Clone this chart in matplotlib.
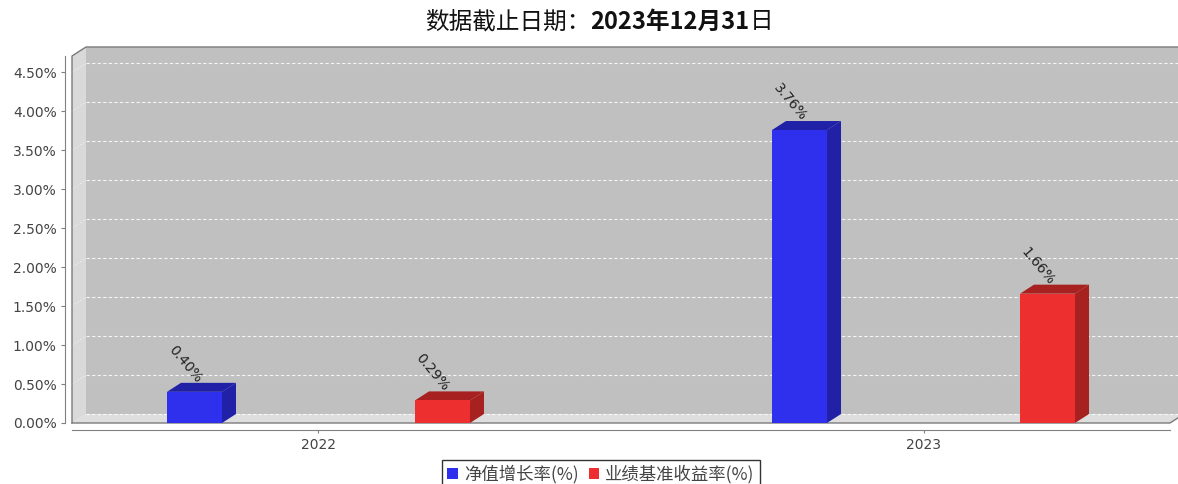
import matplotlib
matplotlib.use("Agg")
import matplotlib.pyplot as plt
from matplotlib.patches import Polygon, Patch

# ---------------- data ----------------
categories = ["2022", "2023"]
series_names = ["净值增长率(%)", "业绩基准收益率(%)"]
nav_growth = [0.40, 3.76]
benchmark = [0.29, 1.66]
y_ticks = [0.0, 0.5, 1.0, 1.5, 2.0, 2.5, 3.0, 3.5, 4.0, 4.5]
title_parts = [("数据截止日期：", "normal"), ("2023年12月31", "bold"), ("日", "normal")]

# ---------------- style ----------------
front_colors = ["#2F2FEE", "#EE2F2F"]
dark_colors = ["#2121A8", "#A82121"]
wall_back = "#C0C0C0"
wall_side = "#D9D9D9"
floor_col = "#DEDEDE"
edge_col = "#7A7A7A"
DX_PX, DY_PX = 14, 9
CJK = ["Noto Sans CJK SC", "DejaVu Sans"]

plt.rcParams['font.family'] = ['DejaVu Sans']
fig = plt.figure(figsize=(11.78, 4.84), dpi=100)
W, H = 1178, 484
ax = fig.add_axes([72 / W, 1 - 423 / H, (1170 - 72) / W, (423 - 56) / H])

xmin, xmax = -0.4074, 1.4074
ymin, ymax = 0.0, 4.71
ax.set_xlim(xmin, xmax)
ax.set_ylim(ymin, ymax)
ax.patch.set_visible(False)

# pixel -> data conversion for the 3D depth
ppx = ax.bbox.width / (xmax - xmin)
ppy = ax.bbox.height / (ymax - ymin)
ddx = DX_PX / ppx
ddy = DY_PX / ppy

def poly(pts, fc, ec="none", lw=0, z=1):
    p = Polygon(pts, closed=True, facecolor=fc, edgecolor=ec, linewidth=lw,
                clip_on=False, zorder=z)
    ax.add_patch(p)
    return p

# back wall
poly([(xmin + ddx, ddy), (xmax + ddx, ddy), (xmax + ddx, ymax + ddy), (xmin + ddx, ymax + ddy)],
     wall_back, z=0)
# left wall
poly([(xmin, 0), (xmin, ymax), (xmin + ddx, ymax + ddy), (xmin + ddx, ddy)], wall_side, z=0.5)
# floor
poly([(xmin, 0), (xmax, 0), (xmax + ddx, ddy), (xmin + ddx, ddy)], floor_col, z=0.5)

# gridlines on back wall and left wall
for t in y_ticks:
    ax.plot([xmin + ddx, xmax + ddx], [t + ddy, t + ddy], color="white", lw=0.8,
            ls=(0, (3, 2)), alpha=0.85, clip_on=False, zorder=0.6)
    if t > 0:
        ax.plot([xmin, xmin + ddx], [t, t + ddy], color="white", lw=0.6, alpha=0.6,
                ls=(0, (2, 2)), clip_on=False, zorder=0.6)

# outlines
ax.plot([xmin, xmin, xmin + ddx, xmax + ddx], [0, ymax, ymax + ddy, ymax + ddy],
        color=edge_col, lw=1.0, clip_on=False, zorder=0.7)
ax.plot([xmin, xmax, xmax + ddx], [0, 0, ddy], color=edge_col, lw=1.0,
        clip_on=False, zorder=0.7)

# bars
x_pos = list(range(len(categories)))
bar_w = 55 / ppx
offsets = [-124 / ppx, 124 / ppx]
for s, vals in enumerate([nav_growth, benchmark]):
    xs = [x + offsets[s] for x in x_pos]
    ax.bar(xs, vals, width=bar_w, color=front_colors[s], edgecolor="none",
           zorder=3, clip_on=False)
    for xc, v in zip(xs, vals):
        x0, x1 = xc - bar_w / 2, xc + bar_w / 2
        poly([(x0, v), (x1, v), (x1 + ddx, v + ddy), (x0 + ddx, v + ddy)],
             dark_colors[s], z=2.9)
        poly([(x1, 0), (x1, v), (x1 + ddx, v + ddy), (x1 + ddx, ddy)],
             dark_colors[s], z=2.9)
        ax.annotate(f"{v:.2f}%", xy=(xc, v), xytext=(-7, 20),
                    textcoords="offset points", rotation=-50,
                    ha="center", va="center", fontsize=10, color="#222222",
                    annotation_clip=False, zorder=5)

# axes
for sp in ["top", "right"]:
    ax.spines[sp].set_visible(False)
ax.spines["left"].set_position(("outward", 5))
ax.spines["bottom"].set_position(("outward", 5))
ax.spines["left"].set_color("#808080")
ax.spines["bottom"].set_color("#808080")
ax.set_yticks(y_ticks)
ax.set_yticklabels([f"{t:.2f}%" for t in y_ticks])
ax.set_xticks(x_pos)
ax.set_xticklabels(categories)
ax.tick_params(axis="y", length=3, color="#808080", labelsize=10, labelcolor="#444444", pad=3)
ax.tick_params(axis="x", length=2, color="#808080", labelsize=10, labelcolor="#444444", pad=4)

# title, drawn in pieces (regular CJK, bold digits)
renderer = fig.canvas.get_renderer()
texts = []
for s, wt in title_parts:
    texts.append(fig.text(0, 1 - 22 / H, s, ha="left", va="center", fontsize=17,
                          fontweight=wt, family=CJK, color="#111111"))
widths = [t.get_window_extent(renderer).width for t in texts]
x_cur = 599 - sum(widths) / 2
for t, w in zip(texts, widths):
    t.set_x(x_cur / W)
    x_cur += w

# legend
handles = [Patch(facecolor=front_colors[0], edgecolor="none"),
           Patch(facecolor=front_colors[1], edgecolor="none")]
leg = fig.legend(handles, series_names, loc="upper center",
                 bbox_to_anchor=(601 / W, 1 - 460 / H), ncol=2, frameon=True,
                 fancybox=False, edgecolor="#333333", framealpha=1,
                 prop={"family": CJK, "size": 12.5},
                 handlelength=0.6, handleheight=0.6, handletextpad=0.35,
                 columnspacing=0.6, borderpad=0.3, borderaxespad=0)
leg.get_frame().set_linewidth(1.0)
for t in leg.get_texts():
    t.set_color("#444444")

fig.savefig("out.png", dpi=100)
